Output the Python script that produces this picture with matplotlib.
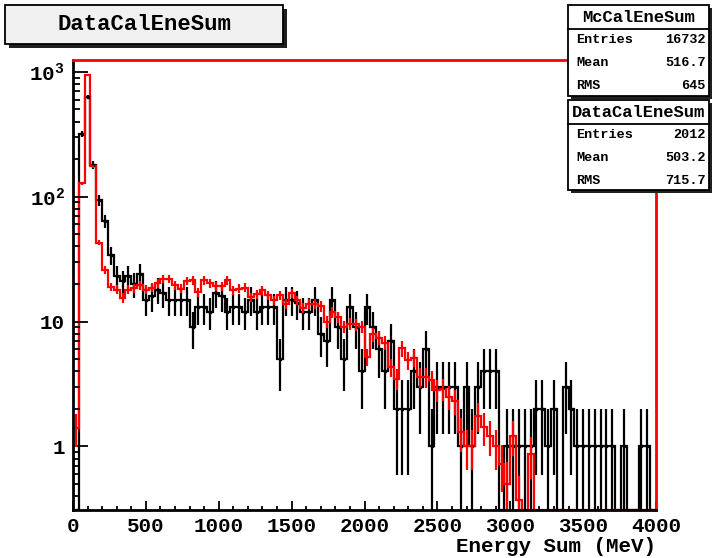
import numpy as np
import matplotlib
matplotlib.use("Agg")
import matplotlib.pyplot as plt
from matplotlib.patches import Rectangle
from matplotlib.ticker import FixedLocator, MultipleLocator

plt.rcParams['font.family'] = ['Liberation Mono', 'DejaVu Sans Mono']
plt.rcParams['font.weight'] = 'bold'
plt.rcParams['mathtext.fontset'] = 'custom'
plt.rcParams['mathtext.rm'] = 'Liberation Mono:bold'
plt.rcParams['mathtext.it'] = 'Liberation Mono:bold'
plt.rcParams['mathtext.bf'] = 'Liberation Mono:bold'

# 100 bins of 40 MeV between 0 and 4000 MeV
bin_edges = np.linspace(0, 4000, 101)

# data counts per bin (black)
data_counts = [
    0, 320, 630, 180, 94, 64, 34, 23, 21, 23,
    20, 24, 15, 16, 18, 17, 15, 15, 15, 15,
    9, 13, 13, 12, 17, 16, 12, 13, 13, 12,
    15, 12, 13, 13, 13, 5, 15, 15, 14, 12,
    12, 15, 8, 7, 15, 9, 5, 13, 9, 4,
    13, 9, 6, 4, 7, 2, 2, 2, 4, 3,
    6, 1, 3, 3, 3, 3, 1, 3, 1, 3,
    4, 4, 4, 0, 1, 1, 1, 1, 1, 2,
    2, 1, 2, 0, 3, 2, 1, 1, 1, 1,
    1, 1, 1, 0, 1, 0, 0, 1, 1, 0,
]

# MC per bin, scaled to the data entries (red)
mc_counts = [
    1.4, 128, 945, 175, 43, 26, 19, 18, 15.5, 18,
    18.5, 19.6, 18, 18.7, 20.2, 22.1, 22.1, 19.5, 18.4, 21.2,
    21.4, 17.3, 21.4, 20.2, 19.2, 19.2, 21.4, 17.8, 18.4, 18.7,
    15.7, 16.6, 17.8, 16.3, 14.8, 16.3, 13.9, 16.8, 14.8, 12.9,
    13.8, 13.8, 13.3, 9.9, 11.9, 10.9, 9.1, 9.6, 9.5, 9.1,
    5.2, 7.9, 7.4, 6.8, 4.3, 3.5, 6.1, 4.9, 5.1, 3.6,
    3.6, 3.4, 2.85, 2.9, 2.5, 2.3, 1.3, 1.0, 1.0, 1.77,
    1.43, 1.22, 1.0, 0.73, 0.5, 1.22, 0.37, 0, 0.87, 0,
    0, 0, 0, 0, 0, 0, 0, 0, 0, 0,
    0, 0, 0, 0, 0, 0, 0, 0, 0, 0,
]

mc_name, mc_entries, mc_mean, mc_rms = "McCalEneSum", 16732, "516.7", "645"
data_name, data_entries, data_mean, data_rms = "DataCalEneSum", 2012, "503.2", "715.7"

ymin, ymax = 0.31, 1245

W, H = 714, 558
fig = plt.figure(figsize=(W / 100, H / 100), dpi=100)
fig.patch.set_facecolor("white")
ax = fig.add_axes([73 / W, 1 - 510 / H, (656 - 73) / W, (510 - 60) / H])

centers = 0.5 * (bin_edges[:-1] + bin_edges[1:])
data = np.array(data_counts, dtype=float)
mc = np.array(mc_counts, dtype=float)
mc_scale = data_entries / mc_entries

# black data histogram with sqrt(N) errors
ax.stairs(np.clip(data, ymin, None), bin_edges, baseline=ymin, color="black", lw=1.6)
m = data > 0
err = np.sqrt(data[m])
lo = np.clip(data[m] - err, 1e-3, None)
ax.errorbar(centers[m], data[m], yerr=[data[m] - lo, err], fmt="none",
            ecolor="black", elinewidth=1.6, capsize=0)
ax.plot(centers[m], data[m], "s", color="black", ms=1.5)

# red MC histogram on top
ax.stairs(np.clip(mc, ymin, None), bin_edges, baseline=ymin, color="red", lw=1.6)
m = mc > 0
err = np.sqrt(mc[m] * mc_scale)
ax.errorbar(centers[m], mc[m], yerr=err, fmt="none", ecolor="red",
            elinewidth=1.6, capsize=0)

ax.set_yscale("log")
ax.set_xlim(0, 4000)
ax.set_ylim(ymin, ymax)

ax.xaxis.set_major_locator(MultipleLocator(500))
ax.xaxis.set_minor_locator(MultipleLocator(100))
ax.tick_params(axis="x", which="major", direction="in", length=6.5, width=1.3,
               labelsize=15, pad=5, top=False)
ax.tick_params(axis="x", which="minor", direction="in", length=3.2, width=1.3, top=False)

ax.yaxis.set_major_locator(FixedLocator([1, 10, 100, 1000]))
ax.set_yticklabels(["1", "10", r"$10^{2}$", r"$10^{3}$"])
minor = [k * 10.0 ** e for e in range(-1, 3) for k in range(2, 10)]
ax.yaxis.set_minor_locator(FixedLocator([v for v in minor if ymin < v < ymax]))
ax.yaxis.set_minor_formatter(plt.NullFormatter())
ax.tick_params(axis="y", which="major", direction="in", length=11, width=1.3,
               labelsize=15, pad=6, right=False)
ax.tick_params(axis="y", which="minor", direction="in", length=5, width=1.3, right=False)

for side in ["left", "bottom"]:
    ax.spines[side].set_linewidth(2)
    ax.spines[side].set_color("black")
for side in ["top", "right"]:
    ax.spines[side].set_linewidth(2)
    ax.spines[side].set_color("red")

fig.text(656 / W, 1 - 546 / H, "Energy Sum (MeV)", ha="right", va="center",
         fontsize=15, fontweight="bold")


def box(x0, y0, x1, y1, face="white", shadow=3):
    fig.add_artist(Rectangle((x0 / W + shadow / W, 1 - (y1 + shadow) / H),
                             (x1 - x0) / W, (y1 - y0) / H, transform=fig.transFigure,
                             facecolor="#202020", edgecolor="none", zorder=10))
    fig.add_artist(Rectangle((x0 / W, 1 - y1 / H), (x1 - x0) / W, (y1 - y0) / H,
                             transform=fig.transFigure, facecolor=face,
                             edgecolor="black", lw=1.3, zorder=11))


def hline(x0, x1, y):
    fig.add_artist(plt.Line2D([x0 / W, x1 / W], [1 - y / H, 1 - y / H],
                              transform=fig.transFigure, color="black", lw=1.3, zorder=12))


# histogram title box
box(5, 5, 283, 44, face="#f0f0f0", shadow=4)
fig.text(144 / W, 1 - 24.5 / H, data_name, ha="center", va="center",
         fontsize=16, fontweight="bold", zorder=13)

# stats boxes
for top, name, rows in [
    (5, mc_name, [("Entries", str(mc_entries)), ("Mean", mc_mean), ("RMS", mc_rms)]),
    (100, data_name, [("Entries", str(data_entries)), ("Mean", data_mean), ("RMS", data_rms)]),
]:
    bottom = top + 91 if top == 5 else top + 90
    box(568, top, 709, bottom)
    hline(568, 709, top + 23.5)
    fig.text(638.5 / W, 1 - (top + 12.5) / H, name, ha="center", va="center",
             fontsize=12.3, fontweight="bold", zorder=13)
    for i, (lab, val) in enumerate(rows):
        y = top + 35 + 23 * i
        fig.text(576 / W, 1 - y / H, lab, ha="left", va="center",
                 fontsize=9.7, fontweight="bold", zorder=13)
        fig.text(706 / W, 1 - y / H, val, ha="right", va="center",
                 fontsize=9.7, fontweight="bold", zorder=13)

fig.savefig("out.png", dpi=100)
